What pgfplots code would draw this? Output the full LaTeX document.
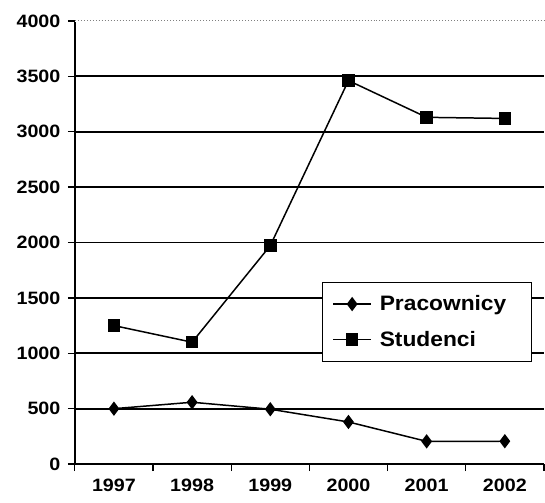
\documentclass[border=0pt]{standalone}
\usepackage{pgfplots}
\pgfplotsset{compat=1.18}
\usepackage{fontspec}
\setmainfont{Liberation Sans}
\newcommand{\widen}[1]{\scalebox{1.1}[1]{#1}}
\begin{document}
\begin{tikzpicture}[x=1bp,y=1bp]
\begin{axis}[
  name=ax,
  scale only axis,
  width=470bp, height=444bp,
  xmin=-0.5, xmax=5.5,
  ymin=0, ymax=4000,
  axis x line*=bottom,
  axis y line*=left,
  axis line style={black, line width=1.6bp},
  xtick={-0.5,0.5,1.5,2.5,3.5,4.5,5.5},
  x tick label as interval,
  xticklabels={\widen{1997},\widen{1998},\widen{1999},\widen{2000},\widen{2001},\widen{2002}},
  ytick={0,500,1000,1500,2000,2500,3000,3500,4000},
  yticklabel={\widen{\pgfmathprintnumber{\tick}}},
  tick align=outside,
  major tick length=7bp,
  tick style={black, line width=1.3bp},
  ymajorgrids,
  grid style={black, line width=1.7bp},
  /pgf/number format/1000 sep={},
  /pgf/number format/assume math mode=true,
  xticklabel style={font=\fontsize{18}{22}\selectfont\bfseries, yshift=-4bp},
  yticklabel style={font=\fontsize{18}{22}\selectfont\bfseries, xshift=-4bp},
  legend style={at={(rel axis cs:0.527,0.41)}, anchor=north west,
    draw=black, line width=0.8bp, font=\fontsize{21}{24}\selectfont\bfseries,
    inner xsep=10bp, inner ysep=11bp, row sep=15bp, fill=white},
  legend cell align=left,
  legend image code/.code={
    \draw[#1, line width=1.5bp] (0bp,0bp) -- (38bp,0bp);
    \draw[#1, line width=1.5bp] plot coordinates {(19bp,0bp)};
    \path (44bp,0bp);
  },
  clip=false,
]
\addplot[black, line width=1.5bp, mark=diamond*, mark size=6bp, mark options={solid, fill=black}]
  coordinates {(0,500) (1,558) (2,495) (3,380) (4,205) (5,206)};
\addlegendentry{\scalebox{1.09}[1]{Pracownicy}\rule{13bp}{0pt}}
\addplot[black, line width=1.5bp, mark=square*, mark size=5.5bp, mark options={solid, fill=black}]
  coordinates {(0,1250) (1,1100) (2,1972) (3,3462) (4,3130) (5,3120)};
\addlegendentry{\scalebox{1.09}[1]{Studenci}}
\end{axis}
\draw[white, line width=2.2bp] (ax.north west) -- (ax.north east);
\draw[gray, line width=1bp, dotted] (ax.north west) -- (ax.north east);
\path ([xshift=-75bp,yshift=-39bp]ax.south west) rectangle ([yshift=21bp]ax.north east);
\end{tikzpicture}
\end{document}
